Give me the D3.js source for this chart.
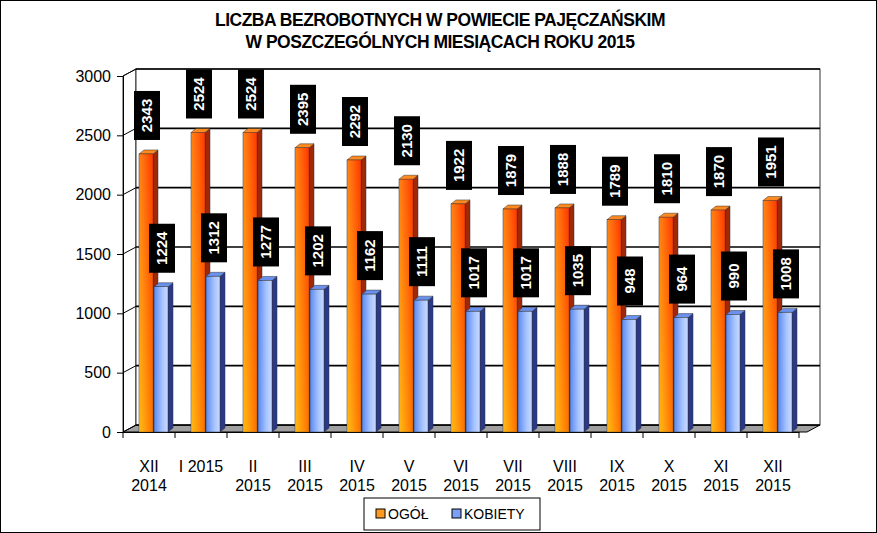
<!DOCTYPE html>
<html><head><meta charset="utf-8">
<script src="https://cdn.jsdelivr.net/npm/d3@7"></script>
<style>body{margin:0;background:#fff}svg{font-family:"Liberation Sans",Arial,sans-serif}</style>
</head><body><svg id="vis" width="877" height="533"></svg>
<script>
const months = [["XII","2014"],["I 2015",""],["II","2015"],["III","2015"],["IV","2015"],["V","2015"],["VI","2015"],["VII","2015"],["VIII","2015"],["IX","2015"],["X","2015"],["XI","2015"],["XII","2015"]];
const ogol = [2343,2524,2524,2395,2292,2130,1922,1879,1888,1789,1810,1870,1951];
const kobiety = [1224,1312,1277,1202,1162,1111,1017,1017,1035,948,964,990,1008];
const yTicks = [0,500,1000,1500,2000,2500,3000];

const svg = d3.select("#vis");
const W = 877, H = 533;
const dx = 13, dy = -7; // depth of back wall
const x0 = 123, x1 = 799, yB = 432, yT = 76;

const x = d3.scaleBand().domain(d3.range(months.length)).range([x0, x1]);
const y = d3.scaleLinear().domain([0, 3000]).range([yB, yT]);

svg.append("rect").attr("x",0.5).attr("y",0.5).attr("width",W-1).attr("height",H-1)
  .attr("fill","#fff").attr("stroke","#000");

const defs = svg.append("defs");
function grad(id, stops){
  const g = defs.append("linearGradient").attr("id",id).attr("x1","0").attr("x2","1").attr("y1","0").attr("y2","0");
  stops.forEach(s => g.append("stop").attr("offset",s[0]).attr("stop-color",s[1]));
}
grad("gO", [[0,"#ffb020"],[0.5,"#ff7a10"],[1,"#ff3a00"]]);
grad("gB", [[0,"#5a88f0"],[0.6,"#a8c4ff"],[1,"#c8daff"]]);
const vO = defs.append("linearGradient").attr("id","vO").attr("x1",0).attr("x2",0).attr("y1",0).attr("y2",1);
vO.append("stop").attr("offset",0).attr("stop-color","#ff3000").attr("stop-opacity",0.35);
vO.append("stop").attr("offset",1).attr("stop-color","#ffd000").attr("stop-opacity",0.35);

// back wall, floor
svg.append("path").attr("d",`M${x0},${yB}L${x0+dx},${yB+dy}L${x1+dx+8},${yB+dy}L${x1+8},${yB}Z`).attr("fill","#a0a0a0").attr("stroke","#000");
svg.append("path").attr("d",`M${x0},${yB}L${x0},${yT}L${x0+dx},${yT+dy}L${x0+dx},${yB+dy}Z`).attr("fill","#fff").attr("stroke","#000").attr("stroke-width",0.8);
svg.append("rect").attr("x",x0+dx).attr("y",y(3000)+dy).attr("width",x1+8-x0).attr("height",y(0)-y(3000))
  .attr("fill","#fff").attr("stroke","#000").attr("stroke-width",0.8);
const grid = svg.append("g");
yTicks.forEach(t => {
  grid.append("line").attr("x1",x0+dx).attr("x2",x1+dx+8).attr("y1",y(t)+dy).attr("y2",y(t)+dy).attr("stroke","#000").attr("stroke-width",1.6);
  grid.append("line").attr("x1",x0).attr("x2",x0+dx).attr("y1",y(t)).attr("y2",y(t)+dy).attr("stroke","#000");
});

// axes
svg.append("g").attr("transform",`translate(${x0},0)`)
  .call(d3.axisLeft(y).tickValues(yTicks).tickFormat(d3.format("d")).tickSize(6).tickPadding(6))
  .call(g => g.selectAll("text").attr("font-size",16).attr("fill","#000"))
  .call(g => g.selectAll("line,path").attr("stroke","#000"));
const xa = svg.append("g").attr("transform",`translate(0,${yB})`)
  .call(d3.axisBottom(x).tickSize(0).tickFormat(""));
xa.select("path").attr("stroke","#000");
x.domain().concat([months.length]).forEach(i => {
  const xx = i < months.length ? x(i) : x1;
  xa.append("line").attr("x1",xx).attr("x2",xx).attr("y1",0).attr("y2",6).attr("stroke","#000");
});
xa.selectAll(".lbl").data(months).join("text")
  .attr("x",(d,i)=>x(i)+x.bandwidth()/2).attr("y",40).attr("text-anchor","middle").attr("font-size",16).attr("fill","#000")
  .each(function(d){
    d3.select(this).append("tspan").attr("x",d3.select(this).attr("x")).attr("dy",0).text(d[0]);
    d3.select(this).append("tspan").attr("x",d3.select(this).attr("x")).attr("dy",19).text(d[1]);
  });

// bars
const bw = 14, bd = 5, bdy = -4;
function bars(vals, off, fill, top, side, overlay){
  const g = svg.append("g");
  vals.forEach((v,i) => {
    const bx = x(i) + off, by = y(v);
    g.append("path").attr("d",`M${bx+bw},${by}L${bx+bw+bd},${by+bdy}L${bx+bw+bd},${yB+bdy}L${bx+bw},${yB}Z`).attr("fill",side).attr("stroke","#333").attr("stroke-width",0.5);
    g.append("path").attr("d",`M${bx},${by}L${bx+bd},${by+bdy}L${bx+bw+bd},${by+bdy}L${bx+bw},${by}Z`).attr("fill",top).attr("stroke","#333").attr("stroke-width",0.5);
    g.append("rect").attr("x",bx).attr("y",by).attr("width",bw).attr("height",yB-by).attr("fill",fill).attr("stroke","#333").attr("stroke-width",0.5);
    if (overlay) g.append("rect").attr("x",bx).attr("y",by).attr("width",bw).attr("height",yB-by).attr("fill",overlay);
    // label
    const cx = bx + bw/2 + 1, bottom = by - 14, lh = 49, lw = 26;
    g.append("rect").attr("x",cx-lw/2).attr("y",bottom-lh).attr("width",lw).attr("height",lh).attr("fill","#000");
    g.append("text").attr("transform",`translate(${cx+5},${bottom-lh/2}) rotate(-90)`)
      .attr("text-anchor","middle").attr("fill","#fff").attr("font-weight","bold").attr("font-size",15).text(v);
  });
}
bars(ogol, 16, "url(#gO)", "#ff8a20", "#a02808", "url(#vO)");
bars(kobiety, 31, "url(#gB)", "#6a90f0", "#2a3a8a", null);

// title
svg.append("text").attr("x",440).attr("y",26).attr("text-anchor","middle").attr("font-weight","bold").attr("font-size",17.5).attr("letter-spacing",-0.5)
  .text("LICZBA BEZROBOTNYCH W POWIECIE PAJĘCZAŃSKIM");
svg.append("text").attr("x",440).attr("y",48).attr("text-anchor","middle").attr("font-weight","bold").attr("font-size",17.5).attr("letter-spacing",-0.5)
  .text("W POSZCZEGÓLNYCH MIESIĄCACH ROKU 2015");

// legend
const lg = svg.append("g").attr("transform","translate(364,498)");
lg.append("rect").attr("width",176).attr("height",32).attr("fill","#fff").attr("stroke","#000");
[["OGÓŁ","#ff9a20",12],["KOBIETY","#7aa0f8",88]].forEach(d => {
  lg.append("rect").attr("x",d[2]).attr("y",11).attr("width",9).attr("height",9).attr("fill",d[1]).attr("stroke","#000");
  lg.append("text").attr("x",d[2]+12).attr("y",21).attr("font-size",14).text(d[0]);
});
</script></body></html>
